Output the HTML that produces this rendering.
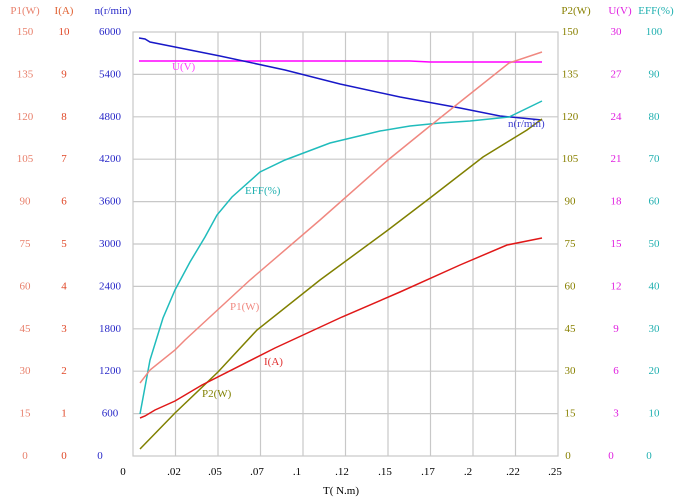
<!DOCTYPE html>
<html><head><meta charset="utf-8"><style>
body{margin:0;background:#fff;width:682px;height:498px;overflow:hidden}
svg text{font-family:"Liberation Serif",serif;font-size:11px}
</style></head><body>
<svg width="682" height="498" xmlns="http://www.w3.org/2000/svg">
<g stroke="#c8c8c8" stroke-width="1.2" fill="none">
<rect x="133" y="32" width="425" height="424"/>
<path d="M175.5 32V456M218 32V456M260.5 32V456M303 32V456M345.5 32V456M388 32V456M430.5 32V456M473 32V456M515.5 32V456
M133 74.4H558M133 116.8H558M133 159.2H558M133 201.6H558M133 244H558M133 286.4H558M133 328.8H558M133 371.2H558M133 413.6H558"/>
</g>
<g text-anchor="middle">
<text x="25" y="14" fill="#e8806c">P1(W)</text><text x="64" y="14" fill="#e06030">I(A)</text><text x="113" y="14" fill="#2828c8">n(r/min)</text>
<text x="576" y="14" fill="#888000">P2(W)</text><text x="620" y="14" fill="#e020e0">U(V)</text><text x="656" y="14" fill="#20b0b0">EFF(%)</text>
</g>
<g text-anchor="middle">
<g fill="#e8806c"><text x="25" y="35">150</text><text x="25" y="77.4">135</text><text x="25" y="119.8">120</text><text x="25" y="162.2">105</text><text x="25" y="204.6">90</text><text x="25" y="247">75</text><text x="25" y="289.4">60</text><text x="25" y="331.8">45</text><text x="25" y="374.2">30</text><text x="25" y="416.6">15</text><text x="25" y="459">0</text></g>
<g fill="#e04828"><text x="64" y="35">10</text><text x="64" y="77.4">9</text><text x="64" y="119.8">8</text><text x="64" y="162.2">7</text><text x="64" y="204.6">6</text><text x="64" y="247">5</text><text x="64" y="289.4">4</text><text x="64" y="331.8">3</text><text x="64" y="374.2">2</text><text x="64" y="416.6">1</text><text x="64" y="459">0</text></g>
<g fill="#2828c8"><text x="110" y="35">6000</text><text x="110" y="77.4">5400</text><text x="110" y="119.8">4800</text><text x="110" y="162.2">4200</text><text x="110" y="204.6">3600</text><text x="110" y="247">3000</text><text x="110" y="289.4">2400</text><text x="110" y="331.8">1800</text><text x="110" y="374.2">1200</text><text x="110" y="416.6">600</text><text x="100" y="459">0</text></g>
<g fill="#888000"><text x="570" y="35">150</text><text x="570" y="77.4">135</text><text x="570" y="119.8">120</text><text x="570" y="162.2">105</text><text x="570" y="204.6">90</text><text x="570" y="247">75</text><text x="570" y="289.4">60</text><text x="570" y="331.8">45</text><text x="570" y="374.2">30</text><text x="570" y="416.6">15</text><text x="568" y="459">0</text></g>
<g fill="#e020e0"><text x="616" y="35">30</text><text x="616" y="77.4">27</text><text x="616" y="119.8">24</text><text x="616" y="162.2">21</text><text x="616" y="204.6">18</text><text x="616" y="247">15</text><text x="616" y="289.4">12</text><text x="616" y="331.8">9</text><text x="616" y="374.2">6</text><text x="616" y="416.6">3</text><text x="611" y="459">0</text></g>
<g fill="#20b0b0"><text x="654" y="35">100</text><text x="654" y="77.4">90</text><text x="654" y="119.8">80</text><text x="654" y="162.2">70</text><text x="654" y="204.6">60</text><text x="654" y="247">50</text><text x="654" y="289.4">40</text><text x="654" y="331.8">30</text><text x="654" y="374.2">20</text><text x="654" y="416.6">10</text><text x="649" y="459">0</text></g>
</g>
<g stroke-width="1.5" fill="none">
<polyline stroke="#ff00ff" points="139,61 410,61 430,62 542,62"/>
<polyline stroke="#1818c8" points="139,38 145,39 150,42 175,47 220,56 285,70 340,84 400,97 460,108 500,116 542,120"/>
<polyline stroke="#20bcbc" points="140,414 150,360 163,318 175,290 190,262 205,237 217,215 232,197 260,172 285,160 330,143 380,131 410,126 440,123 470,121 509,117 542,101"/>
<polyline stroke="#f08880" points="140,383 150,370 175,350 185,340 250,280 320,220 388,160 425,130 460,102 509,63 542,52"/>
<polyline stroke="#808000" points="140,449 175,413 218,372 257,330 320,280 388,230 430,198 483,157 527,130 542,119"/>
<polyline stroke="#e01818" points="140,418 145,416 155,410 175,401 202,385 275,348 342,317 400,292 460,265 507,245 542,238"/>
</g>
<text x="172" y="70" fill="#ff40ff">U(V)</text>
<text x="508" y="127" fill="#4040d0">n(r/min)</text>
<text x="245" y="194" fill="#20b0b0">EFF(%)</text>
<text x="230" y="310" fill="#f08880">P1(W)</text>
<text x="264" y="365" fill="#e03030">I(A)</text>
<text x="202" y="397" fill="#808000">P2(W)</text>
<g text-anchor="middle" fill="#000">
<text x="123" y="475">0</text><text x="174" y="475">.02</text><text x="215" y="475">.05</text><text x="257" y="475">.07</text><text x="297" y="475">.1</text><text x="342" y="475">.12</text><text x="385" y="475">.15</text><text x="428" y="475">.17</text><text x="468" y="475">.2</text><text x="513" y="475">.22</text><text x="555" y="475">.25</text>
<text x="341" y="494">T( N.m)</text>
</g>
</svg>
</body></html>
